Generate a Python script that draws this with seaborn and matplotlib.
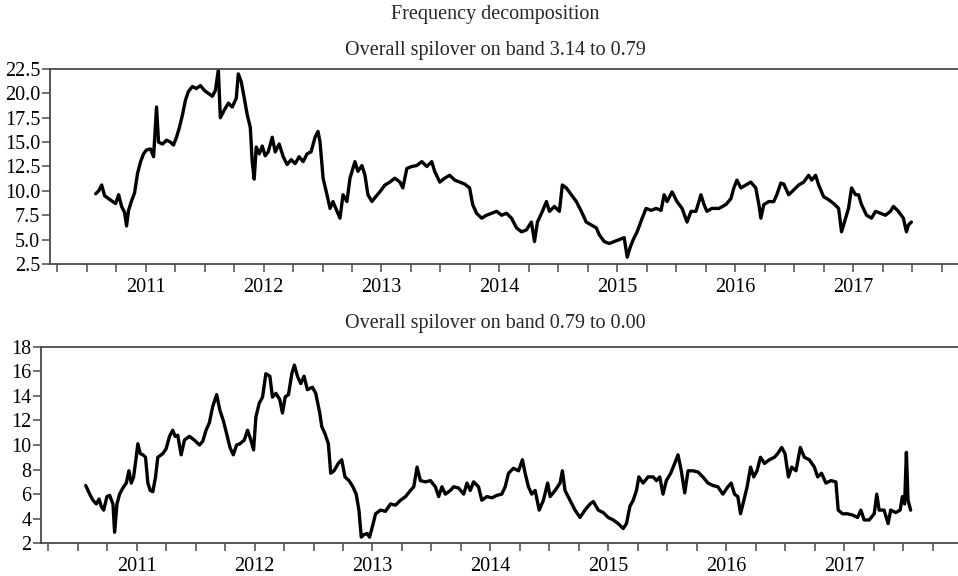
import matplotlib
matplotlib.use("Agg")

import matplotlib.pyplot as plt
import numpy as np
import pandas as pd
import seaborn as sns
from matplotlib.ticker import FixedLocator, FormatStrFormatter, MultipleLocator


MAIN_TITLE = "Frequency decomposition"
TITLE_HIGH = "Overall spilover on band 3.14 to 0.79"
TITLE_LOW = "Overall spilover on band 0.79 to 0.00"

YEARS = [2011, 2012, 2013, 2014, 2015, 2016, 2017]
YEAR_LABELS = ["2011", "2012", "2013", "2014", "2015", "2016", "2017"]

# band 3.14 to 0.79 (decimal year, value)
HIGH_T = [
    2010.577, 2010.603, 2010.628, 2010.653, 2010.687, 2010.721, 2010.746, 2010.772,
    2010.797, 2010.822, 2010.839, 2010.856, 2010.882, 2010.907, 2010.932, 2010.958,
    2010.983, 2011.008, 2011.042, 2011.068, 2011.093, 2011.110, 2011.144, 2011.178,
    2011.211, 2011.237, 2011.262, 2011.287, 2011.313, 2011.338, 2011.363, 2011.397,
    2011.431, 2011.465, 2011.499, 2011.533, 2011.566, 2011.592, 2011.617, 2011.634,
    2011.668, 2011.702, 2011.735, 2011.769, 2011.786, 2011.811, 2011.837, 2011.862,
    2011.888, 2011.904, 2011.921, 2011.938, 2011.964, 2011.989, 2012.014, 2012.040,
    2012.074, 2012.099, 2012.133, 2012.167, 2012.200, 2012.234, 2012.268, 2012.302,
    2012.336, 2012.369, 2012.403, 2012.437, 2012.462, 2012.479, 2012.505, 2012.538,
    2012.564, 2012.589, 2012.623, 2012.648, 2012.674, 2012.707, 2012.733, 2012.775,
    2012.800, 2012.834, 2012.860, 2012.885, 2012.919, 2012.944, 2012.986, 2013.029,
    2013.071, 2013.113, 2013.156, 2013.181, 2013.215, 2013.257, 2013.299, 2013.342,
    2013.384, 2013.426, 2013.451, 2013.494, 2013.536, 2013.578, 2013.621, 2013.663,
    2013.705, 2013.747, 2013.773, 2013.806, 2013.849, 2013.891, 2013.933, 2013.976,
    2014.018, 2014.060, 2014.102, 2014.145, 2014.187, 2014.229, 2014.271, 2014.297,
    2014.322, 2014.364, 2014.398, 2014.424, 2014.466, 2014.508, 2014.533, 2014.567,
    2014.610, 2014.652, 2014.694, 2014.736, 2014.779, 2014.821, 2014.846, 2014.888,
    2014.931, 2014.973, 2015.015, 2015.057, 2015.083, 2015.108, 2015.134, 2015.167,
    2015.210, 2015.243, 2015.286, 2015.328, 2015.370, 2015.396, 2015.421, 2015.463,
    2015.505, 2015.548, 2015.590, 2015.624, 2015.666, 2015.708, 2015.734, 2015.759,
    2015.801, 2015.861, 2015.920, 2015.962, 2015.987, 2016.013, 2016.047, 2016.089,
    2016.131, 2016.173, 2016.199, 2016.216, 2016.241, 2016.283, 2016.325, 2016.351,
    2016.385, 2016.410, 2016.452, 2016.494, 2016.537, 2016.579, 2016.621, 2016.647,
    2016.680, 2016.706, 2016.748, 2016.790, 2016.833, 2016.875, 2016.900, 2016.934,
    2016.959, 2016.985, 2017.019, 2017.044, 2017.069, 2017.112, 2017.154, 2017.188,
    2017.230, 2017.272, 2017.314, 2017.340, 2017.382, 2017.424, 2017.450, 2017.467,
    2017.492,
]
HIGH_V = [
    9.7, 10.0, 10.6, 9.5, 9.2, 8.9, 8.7, 9.6,
    8.4, 7.8, 6.4, 8.0, 9.0, 9.8, 11.8, 13.0,
    13.8, 14.2, 14.3, 13.5, 18.6, 15.0, 14.8, 15.2,
    15.0, 14.7, 15.5, 16.5, 17.8, 19.3, 20.2, 20.7,
    20.5, 20.8, 20.3, 20.0, 19.7, 20.3, 22.4, 17.5,
    18.3, 19.0, 18.6, 19.5, 22.0, 21.2, 19.5, 17.8,
    16.5, 13.0, 11.2, 14.5, 13.8, 14.6, 13.6, 14.0,
    15.5, 14.0, 14.8, 13.5, 12.7, 13.2, 12.8, 13.5,
    13.0, 13.8, 14.0, 15.5, 16.1, 15.0, 11.3, 9.6,
    8.2, 8.9, 7.9, 7.2, 9.6, 8.9, 11.3, 13.0,
    12.0, 12.6, 11.6, 9.6, 8.9, 9.3, 9.9, 10.6,
    10.9, 11.3, 10.9, 10.3, 12.3, 12.5, 12.6, 13.0,
    12.5, 13.0, 12.0, 10.9, 11.3, 11.6, 11.1, 10.9,
    10.7, 10.3, 8.6, 7.7, 7.2, 7.5, 7.7, 7.9,
    7.5, 7.7, 7.2, 6.2, 5.8, 6.0, 6.8, 4.8,
    6.8, 7.9, 8.9, 7.9, 8.4, 7.9, 10.6, 10.3,
    9.6, 8.9, 7.9, 6.8, 6.5, 6.2, 5.5, 4.8,
    4.6, 4.8, 5.0, 5.2, 3.2, 4.2, 5.0, 5.8,
    7.2, 8.2, 8.0, 8.2, 8.0, 9.6, 8.9, 9.9,
    8.9, 8.2, 6.8, 7.9, 7.9, 9.6, 8.6, 7.9,
    8.2, 8.2, 8.6, 9.2, 10.3, 11.1, 10.3, 10.6,
    10.9, 10.3, 8.6, 7.2, 8.6, 8.9, 8.9, 9.6,
    10.8, 10.7, 9.6, 10.1, 10.6, 10.9, 11.6, 11.1,
    11.6, 10.6, 9.4, 9.1, 8.7, 8.2, 5.8, 7.2,
    8.2, 10.3, 9.6, 9.6, 8.6, 7.5, 7.2, 7.9,
    7.7, 7.5, 7.9, 8.4, 7.9, 7.2, 5.8, 6.5,
    6.8,
]

# band 0.79 to 0.00 (decimal year, value)
LOW_T = [
    2010.569, 2010.589, 2010.608, 2010.631, 2010.659, 2010.682, 2010.701, 2010.721,
    2010.749, 2010.772, 2010.800, 2010.814, 2010.834, 2010.856, 2010.884, 2010.913,
    2010.935, 2010.955, 2010.975, 2010.997, 2011.011, 2011.031, 2011.054, 2011.076,
    2011.096, 2011.116, 2011.138, 2011.161, 2011.180, 2011.223, 2011.251, 2011.279,
    2011.307, 2011.327, 2011.349, 2011.378, 2011.406, 2011.448, 2011.490, 2011.533,
    2011.561, 2011.589, 2011.617, 2011.645, 2011.679, 2011.707, 2011.735, 2011.764,
    2011.792, 2011.820, 2011.848, 2011.876, 2011.913, 2011.941, 2011.969, 2011.992,
    2012.012, 2012.040, 2012.068, 2012.096, 2012.130, 2012.152, 2012.181, 2012.214,
    2012.237, 2012.260, 2012.288, 2012.316, 2012.338, 2012.364, 2012.392, 2012.420,
    2012.448, 2012.491, 2012.519, 2012.553, 2012.570, 2012.598, 2012.626, 2012.646,
    2012.674, 2012.710, 2012.739, 2012.767, 2012.801, 2012.834, 2012.862, 2012.885,
    2012.905, 2012.927, 2012.955, 2012.975, 2012.998, 2013.026, 2013.068, 2013.110,
    2013.153, 2013.195, 2013.237, 2013.280, 2013.322, 2013.350, 2013.378, 2013.406,
    2013.449, 2013.491, 2013.533, 2013.561, 2013.589, 2013.618, 2013.660, 2013.688,
    2013.730, 2013.773, 2013.801, 2013.829, 2013.857, 2013.899, 2013.927, 2013.970,
    2014.012, 2014.054, 2014.096, 2014.125, 2014.153, 2014.195, 2014.238, 2014.271,
    2014.294, 2014.322, 2014.350, 2014.379, 2014.413, 2014.449, 2014.485, 2014.506,
    2014.548, 2014.590, 2014.610, 2014.632, 2014.675, 2014.717, 2014.759, 2014.801,
    2014.844, 2014.872, 2014.914, 2014.956, 2014.998, 2015.041, 2015.083, 2015.125,
    2015.153, 2015.182, 2015.210, 2015.238, 2015.258, 2015.294, 2015.336, 2015.379,
    2015.407, 2015.435, 2015.463, 2015.491, 2015.528, 2015.562, 2015.590, 2015.618,
    2015.647, 2015.675, 2015.717, 2015.759, 2015.801, 2015.844, 2015.886, 2015.928,
    2015.970, 2016.013, 2016.041, 2016.069, 2016.097, 2016.120, 2016.148, 2016.176,
    2016.205, 2016.232, 2016.260, 2016.289, 2016.323, 2016.365, 2016.407, 2016.435,
    2016.469, 2016.497, 2016.526, 2016.554, 2016.590, 2016.627, 2016.661, 2016.703,
    2016.746, 2016.774, 2016.807, 2016.844, 2016.886, 2016.928, 2016.948, 2016.985,
    2017.027, 2017.069, 2017.112, 2017.140, 2017.168, 2017.211, 2017.253, 2017.275,
    2017.295, 2017.337, 2017.371, 2017.393, 2017.435, 2017.473, 2017.492, 2017.511,
    2017.526, 2017.540, 2017.562,
]
LOW_V = [
    6.7, 6.3, 5.9, 5.5, 5.2, 5.6, 5.0, 4.7,
    5.8, 5.9, 5.2, 2.9, 5.2, 6.0, 6.5, 6.9,
    7.9, 6.9, 7.4, 9.0, 10.1, 9.3, 9.2, 9.0,
    6.9, 6.3, 6.2, 7.4, 9.0, 9.3, 9.7, 10.7,
    11.2, 10.7, 10.8, 9.2, 10.4, 10.7, 10.4, 10.0,
    10.3, 11.2, 11.8, 13.1, 14.1, 12.8, 12.0, 10.9,
    9.8, 9.2, 10.0, 10.1, 10.4, 11.2, 10.4, 9.6,
    12.3, 13.4, 13.9, 15.8, 15.6, 13.9, 14.2, 13.7,
    12.6, 13.9, 14.1, 15.8, 16.5, 15.6, 15.0, 15.6,
    14.5, 14.7, 14.2, 12.6, 11.5, 10.9, 10.1, 7.7,
    7.9, 8.5, 8.8, 7.4, 7.1, 6.6, 6.0, 4.7,
    2.5, 2.7, 2.8, 2.5, 3.3, 4.4, 4.7, 4.6,
    5.2, 5.1, 5.5, 5.8, 6.3, 6.6, 8.2, 7.1,
    7.0, 7.1, 6.6, 5.8, 6.6, 6.0, 6.3, 6.6,
    6.5, 6.0, 6.9, 6.3, 7.0, 6.6, 5.5, 5.8,
    5.7, 5.9, 6.0, 6.6, 7.7, 8.1, 7.9, 8.8,
    7.7, 6.6, 6.0, 6.3, 4.7, 5.5, 6.9, 5.8,
    6.3, 6.9, 7.9, 6.3, 5.5, 4.7, 4.1, 4.7,
    5.2, 5.4, 4.7, 4.5, 4.1, 3.9, 3.6, 3.2,
    3.6, 5.0, 5.5, 6.3, 7.4, 6.9, 7.4, 7.4,
    7.1, 7.4, 6.0, 7.1, 7.7, 8.5, 9.2, 7.9,
    6.1, 7.9, 7.9, 7.8, 7.4, 6.9, 6.7, 6.6,
    6.0, 6.6, 6.9, 6.0, 5.8, 4.4, 5.5, 6.6,
    8.2, 7.4, 7.9, 9.0, 8.5, 8.8, 9.0, 9.3,
    9.8, 9.3, 7.4, 8.2, 7.9, 9.8, 9.0, 8.8,
    8.2, 7.4, 7.7, 6.9, 7.1, 7.0, 4.7, 4.4,
    4.4, 4.3, 4.1, 4.7, 3.9, 3.9, 4.4, 6.0,
    4.7, 4.7, 3.6, 4.7, 4.5, 4.7, 5.8, 5.2,
    9.4, 5.5, 4.7,
]

XLIM = (2010.19, 2017.97)
SPINE_GREY = "#4a4a4a"
FONT = ["Liberation Serif", "DejaVu Serif"]
TEXT_SIZE = 14.5


def style_axis(ax, ylim, ystep):
    ax.set_xlim(*XLIM)
    ax.set_ylim(*ylim)
    ax.yaxis.set_major_locator(MultipleLocator(ystep))
    ax.xaxis.set_major_locator(FixedLocator(YEARS))
    ax.set_xticklabels(YEAR_LABELS)
    ax.xaxis.set_minor_locator(MultipleLocator(0.25))
    ax.set_xlabel("")
    ax.set_ylabel("")
    ax.grid(False)
    for side in ["left", "top", "bottom"]:
        ax.spines[side].set_color(SPINE_GREY)
        ax.spines[side].set_linewidth(1.3)
    ax.spines["right"].set_visible(False)
    ax.tick_params(axis="both", which="both", direction="out", color=SPINE_GREY,
                   width=1.1, labelsize=TEXT_SIZE, labelcolor="black")
    ax.tick_params(axis="x", which="both", length=6, pad=4)
    ax.tick_params(axis="y", length=6, pad=1)


def main():
    sns.set_theme(style="ticks")
    plt.rcParams["font.family"] = FONT

    high = pd.DataFrame({"t": HIGH_T, "v": HIGH_V})
    low = pd.DataFrame({"t": LOW_T, "v": LOW_V})

    fig = plt.figure(figsize=(9.58, 5.76), dpi=100)
    ax1 = fig.add_axes([0.0522, 0.5417, 0.958, 0.3385])
    ax2 = fig.add_axes([0.0428, 0.0568, 0.958, 0.3413])

    sns.lineplot(data=high, x="t", y="v", color="black", linewidth=2.4,
                 estimator=None, ax=ax1)
    sns.lineplot(data=low, x="t", y="v", color="black", linewidth=2.4,
                 estimator=None, ax=ax2)

    style_axis(ax1, (2.5, 22.5), 2.5)
    ax1.yaxis.set_major_formatter(FormatStrFormatter("%.1f"))
    style_axis(ax2, (2, 18), 2)

    fig.text(0.517, 0.974, MAIN_TITLE, ha="center", va="center", fontsize=TEXT_SIZE)
    fig.text(0.517, 0.913, TITLE_HIGH, ha="center", va="center", fontsize=TEXT_SIZE)
    fig.text(0.517, 0.439, TITLE_LOW, ha="center", va="center", fontsize=TEXT_SIZE)

    fig.savefig("out.png", dpi=100)
    plt.close(fig)


if __name__ == "__main__":
    main()
